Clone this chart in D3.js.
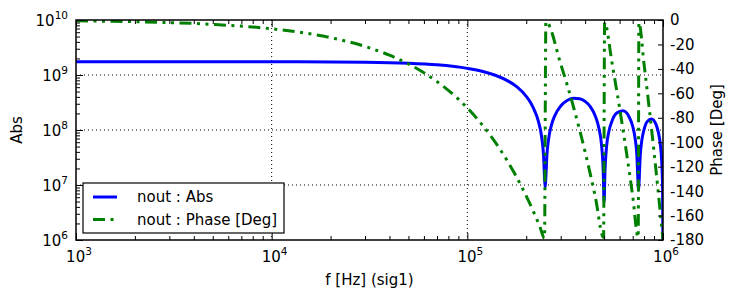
<!DOCTYPE html>
<html>
<head>
<meta charset="utf-8">
<script src="https://cdn.jsdelivr.net/npm/d3@7"></script>
<style>
body { margin: 0; background: #fff; }
text { font-family: "DejaVu Sans", sans-serif; fill: #000; }
.axis path { display: none; }
.axis line { stroke: #000; stroke-width: 1; }
</style>
</head>
<body>
<div id="chart"></div>
<script>
// magnitude
var freqAbs = [1e3, 1e4, 3e4, 5e4, 7e4, 1e5, 1.2e5, 1.4e5, 1.6e5, 1.8e5, 2.0e5, 2.1e5, 2.2e5, 2.3e5, 2.4e5, 2.45e5, 2.48e5, 2.5e5,
    2.52e5, 2.55e5, 2.6e5, 2.7e5, 2.8e5, 3.0e5, 3.25e5, 3.5e5, 3.75e5, 4.0e5, 4.25e5, 4.5e5, 4.7e5, 4.85e5, 4.95e5, 5.0e5,
    5.05e5, 5.15e5, 5.3e5, 5.5e5, 5.8e5, 6.25e5, 6.7e5, 7.0e5, 7.2e5, 7.35e5, 7.45e5, 7.5e5,
    7.55e5, 7.65e5, 7.8e5, 8.0e5, 8.3e5, 8.75e5, 9.2e5, 9.5e5, 9.7e5, 9.85e5, 9.95e5, 1e6];
var absValues = [1.75e9, 1.745e9, 1.71e9, 1.64e9, 1.53e9, 1.32e9, 1.16e9, 9.8e8, 7.9e8, 6.0e8, 4.1e8, 3.2e8, 2.3e8, 1.5e8, 7.3e7, 3.6e7, 1.4e7, 9e6,
    1.4e7, 3.4e7, 6.7e7, 1.28e8, 1.83e8, 2.73e8, 3.47e8, 3.78e8, 3.71e8, 3.31e8, 2.65e8, 1.82e8, 1.09e8, 5.4e7, 1.77e7, 4.9e6,
    1.73e7, 5.1e7, 9.7e7, 1.49e8, 2.03e8, 2.23e8, 1.75e8, 1.17e8, 7.1e7, 3.55e7, 1.17e7, 8e6,
    1.16e7, 3.4e7, 6.6e7, 1.02e8, 1.42e8, 1.59e8, 1.28e8, 8.6e7, 5.3e7, 2.65e7, 8.8e6, 5e5];

// phase
var freqPhase = [1e3, 2e3, 5e3, 1e4, 2e4, 3e4, 4e4, 5e4, 6e4, 7e4, 8e4, 9e4, 1e5, 1.15e5, 1.3e5, 1.45e5, 1.6e5, 1.75e5, 1.9e5, 2.05e5, 2.2e5, 2.35e5, 2.48e5,
    2.52e5, 3.0e5, 3.5e5, 4.0e5, 4.5e5, 4.97e5,
    5.03e5, 5.5e5, 6.0e5, 6.5e5, 7.0e5, 7.47e5,
    7.53e5, 8.0e5, 8.5e5, 9.0e5, 9.5e5, 1e6];
var phaseValues = [-0.7, -1.4, -3.6, -7.2, -14.4, -21.6, -28.8, -36, -43.2, -50.4, -57.6, -64.8, -72, -82.8, -93.6, -104.4, -115.2, -126, -136.8, -147.6, -158.4, -169.2, -178.6,
    -1.4, -36, -72, -108, -144, -177.8,
    -2.2, -36, -72, -108, -144, -177.8,
    -2.2, -36, -72, -108, -144, -180];

var xMajor = [1e3, 1e4, 1e5, 1e6];
var yMajor = [1e6, 1e7, 1e8, 1e9, 1e10];
var phaseTicks = [0, -20, -40, -60, -80, -100, -120, -140, -160, -180];
var legendLabels = ["nout : Abs", "nout : Phase [Deg]"];

var margin = {top: 20, right: 73, bottom: 59, left: 76},
    width = 736 - margin.left - margin.right,
    height = 299 - margin.top - margin.bottom;

var x = d3.scaleLog().domain([1e3, 1e6]).range([0, width]);
var y = d3.scaleLog().domain([1e6, 1e10]).range([height, 0]);
var yPhase = d3.scaleLinear().domain([-180, 0]).range([height, 0]);

function minors(majors) {
    var out = [];
    for (var i = 0; i < majors.length - 1; i++)
        for (var k = 2; k < 10; k++) out.push(majors[i] * k);
    return out;
}

var svg = d3.select("#chart").append("svg")
    .attr("width", 736)
    .attr("height", 299)
    .append("g")
    .attr("transform", "translate(" + margin.left + "," + margin.top + ")");

// dotted grid on the major ticks
svg.append("g").selectAll("line")
    .data(xMajor.slice(1, -1))
    .enter().append("line")
    .attr("x1", function(d) { return x(d); }).attr("x2", function(d) { return x(d); })
    .attr("y1", 0).attr("y2", height)
    .attr("stroke", "#000").attr("stroke-width", 1).attr("stroke-dasharray", "1,3");
svg.append("g").selectAll("line")
    .data(yMajor.slice(1, -1))
    .enter().append("line")
    .attr("y1", function(d) { return y(d); }).attr("y2", function(d) { return y(d); })
    .attr("x1", 0).attr("x2", width)
    .attr("stroke", "#000").attr("stroke-width", 1).attr("stroke-dasharray", "1,3");

svg.append("clipPath").attr("id", "clip")
    .append("rect").attr("width", width).attr("height", height);

var absLine = d3.line()
    .x(function(d, i) { return x(freqAbs[i]); })
    .y(function(d) { return y(d); })
    .curve(d3.curveMonotoneX);

var phaseLine = d3.line()
    .x(function(d, i) { return x(freqPhase[i]); })
    .y(function(d) { return yPhase(d); })
    .curve(d3.curveMonotoneX);

svg.append("path")
    .datum(absValues)
    .attr("clip-path", "url(#clip)")
    .attr("fill", "none")
    .attr("stroke", "#0000ff")
    .attr("stroke-width", 3)
    .attr("d", absLine);

svg.append("path")
    .datum(phaseValues)
    .attr("clip-path", "url(#clip)")
    .attr("fill", "none")
    .attr("stroke", "#008000")
    .attr("stroke-width", 3)
    .attr("stroke-dasharray", "12,5.5,3,5.5,3,5.5")
    .attr("d", phaseLine);

// ticks, pointing inward
svg.append("g").attr("class", "axis").attr("transform", "translate(0," + height + ")")
    .call(d3.axisBottom(x).tickValues(xMajor).tickSizeInner(-7).tickSizeOuter(0).tickFormat(""));
svg.append("g").attr("class", "axis").attr("transform", "translate(0," + height + ")")
    .call(d3.axisBottom(x).tickValues(minors(xMajor)).tickSizeInner(-4).tickSizeOuter(0).tickFormat(""));
svg.append("g").attr("class", "axis")
    .call(d3.axisTop(x).tickValues(xMajor).tickSizeInner(-7).tickSizeOuter(0).tickFormat(""));
svg.append("g").attr("class", "axis")
    .call(d3.axisTop(x).tickValues(minors(xMajor)).tickSizeInner(-4).tickSizeOuter(0).tickFormat(""));
svg.append("g").attr("class", "axis")
    .call(d3.axisLeft(y).tickValues(yMajor).tickSizeInner(-7).tickSizeOuter(0).tickFormat(""));
svg.append("g").attr("class", "axis")
    .call(d3.axisLeft(y).tickValues(minors(yMajor)).tickSizeInner(-4).tickSizeOuter(0).tickFormat(""));
svg.append("g").attr("class", "axis").attr("transform", "translate(" + width + ",0)")
    .call(d3.axisRight(yPhase).tickValues(phaseTicks).tickSizeInner(-5).tickSizeOuter(0).tickFormat(""));

svg.append("rect")
    .attr("width", width).attr("height", height)
    .attr("fill", "none").attr("stroke", "#000").attr("stroke-width", 1.5);

// power-of-ten labels
function powLabel(sel) {
    sel.append("tspan").text("10");
    sel.append("tspan")
        .attr("dy", -7)
        .attr("font-size", 10.5)
        .text(function(d) { return Math.round(Math.log10(d)); });
}

svg.append("g").selectAll("text")
    .data(xMajor)
    .enter().append("text")
    .attr("x", function(d) { return x(d) + 3; })
    .attr("y", height + 22)
    .attr("text-anchor", "middle")
    .attr("font-size", 15)
    .call(powLabel);

svg.append("g").selectAll("text")
    .data(yMajor)
    .enter().append("text")
    .attr("x", -8)
    .attr("y", function(d) { return y(d) + 6; })
    .attr("text-anchor", "end")
    .attr("font-size", 15)
    .call(powLabel);

svg.append("g").selectAll("text")
    .data(phaseTicks)
    .enter().append("text")
    .attr("x", width + 7)
    .attr("y", function(d) { return yPhase(d); })
    .attr("dy", "0.36em")
    .attr("font-size", 15)
    .text(function(d) { return d; });

svg.append("text")
    .attr("x", width / 2)
    .attr("y", height + 45)
    .attr("text-anchor", "middle")
    .attr("font-size", 15)
    .text("f [Hz] (sig1)");

svg.append("text")
    .attr("transform", "translate(-54," + height / 2 + ") rotate(-90)")
    .attr("text-anchor", "middle")
    .attr("font-size", 15)
    .text("Abs");

svg.append("text")
    .attr("transform", "translate(" + (width + 59) + "," + height / 2 + ") rotate(-90)")
    .attr("text-anchor", "middle")
    .attr("font-size", 15)
    .text("Phase [Deg]");

// legend
var legend = svg.append("g").attr("transform", "translate(7,163)");
legend.append("rect")
    .attr("width", 201).attr("height", 50)
    .attr("fill", "#fff").attr("stroke", "#000").attr("stroke-width", 1.2);

var styles = [
    {color: "#0000ff", dash: null},
    {color: "#008000", dash: "12,5.5,3,5.5,3,5.5"}
];

var item = legend.selectAll(".item")
    .data(legendLabels)
    .enter().append("g")
    .attr("class", "item")
    .attr("transform", function(d, i) { return "translate(0," + (14 + i * 22.5) + ")"; });

item.append("line")
    .attr("x1", 10).attr("x2", 34)
    .attr("stroke", function(d, i) { return styles[i].color; })
    .attr("stroke-width", 3)
    .attr("stroke-dasharray", function(d, i) { return styles[i].dash; });

item.append("text")
    .attr("x", 54)
    .attr("dy", "0.36em")
    .attr("font-size", 15)
    .text(function(d) { return d; });
</script>
</body>
</html>
